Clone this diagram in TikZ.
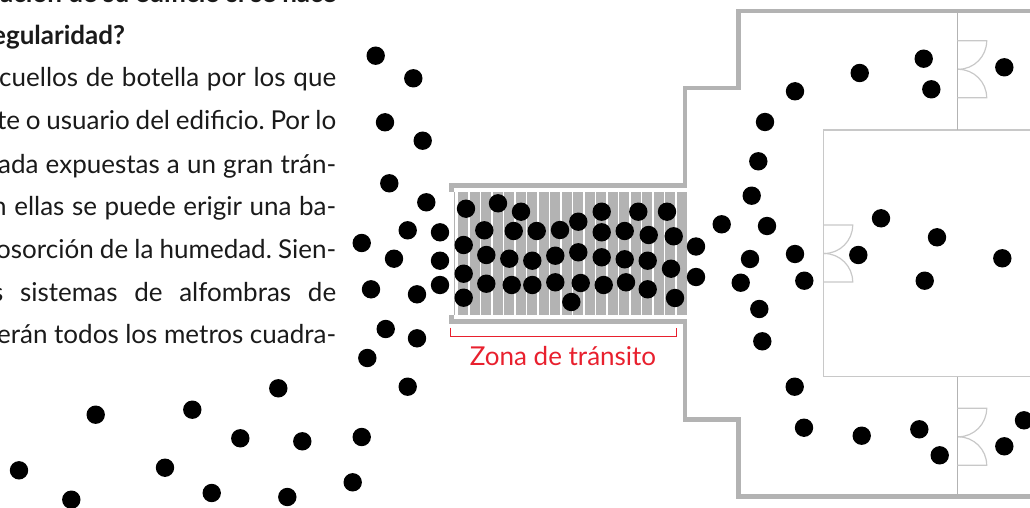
\documentclass[tikz,border=0pt]{standalone}
\usepackage{fontspec}
\setmainfont{Lato}
\usepackage{xcolor}
\definecolor{muro}{HTML}{B3B3B3}
\definecolor{tabique}{HTML}{C8C8C8}
\definecolor{rojo}{HTML}{E8202E}
\definecolor{tinta}{HTML}{1A1A1A}
\tikzset{
    muro/.style={draw=muro, line width=4.7pt, line join=miter},
    tabique/.style={draw=tabique, line width=1.4pt},
    puerta/.style={draw=tabique, line width=1.2pt},
    persona/.style={fill=black},
    linea/.style={anchor=base west, inner sep=0pt, text=tinta, font=\fontsize{26}{26}\selectfont\frenchspacing}
}
\begin{document}
\begin{tikzpicture}[x=1pt,y=-1pt]
    \useasboundingbox (0,0) rectangle (1030,508);
    \clip (0,0) rectangle (1030,508);
    % Texto:
    \node[linea, font=\fontsize{26}{26}\selectfont\bfseries] (t0) at (0,3) {\makebox[336pt][s]{ación de su edificio si se hace}};
    \node[linea, font=\fontsize{26}{26}\selectfont\bfseries] (t1) at (-8,45) {egularidad?};
    \node[linea] (t2) at (-1,87) {\makebox[337pt][s]{cuellos de botella por los que}};
    \node[linea] (t3) at (-3,130) {\makebox[339pt][s]{te o usuario del edificio. Por lo}};
    \node[linea] (t4) at (-2,173) {\makebox[338pt][s]{ada expuestas a un gran trán-}};
    \node[linea] (t5) at (-8,215) {\makebox[344pt][s]{n ellas se puede erigir una ba-}};
    \node[linea] (t6) at (-4,258) {\makebox[340pt][s]{osorción de la humedad. Sien-}};
    \node[linea] (t7) at (-8,301) {\makebox[344pt][s]{s sistemas de alfombras de}};
    \node[linea] (t8) at (-3,343) {\makebox[339pt][s]{erán todos los metros cuadra-}};
    % Felpudo:
    \foreach \x in {0,...,19} {
        \fill[fill=muro] ({458.3+11.5*\x},192) rectangle ({458.3+11.5*\x+10},314.7);
    }
    \draw[draw=muro, line width=1pt] (454.7,192) -- (454.7,315);
    % Muros:
    \draw[muro] (1030,11) -- (738.5,11) -- (738.5,88) -- (684.9,88) -- (684.9,185.6) -- (451.6,185.6) -- (451.6,192);
    \draw[muro] (451.6,315) -- (451.6,321.7) -- (684.9,321.7) -- (684.9,419.3) -- (738.5,419.3) -- (738.5,496.3) -- (1030,496.3);
    % Tabiques:
    \draw[tabique] (1030,130) -- (823.3,130) -- (823.3,376.7) -- (1030,376.7);
    \draw[tabique, draw=muro] (957.3,13) -- (957.3,130);
    \draw[tabique, draw=muro] (957.3,376.7) -- (957.3,494);
    % Puertas:
    \def\puerta#1#2{
        \draw[puerta] (#1,#2) ++(0,-28.5) -- ++(29.4,0) arc[start angle=0, end angle=90, radius=28.5];
        \draw[puerta] (#1,#2) ++(0,28.5) -- ++(29.4,0) arc[start angle=0, end angle=-90, radius=28.5];
    }
    \puerta{957.3}{69.3}
    \puerta{823.3}{253.5}
    \puerta{957.3}{436.8}
    % Zona de transito:
    \draw[rojo, line width=1.2pt] (450.7,327.7) -- (450.7,336.7) -- (676.7,336.7) -- (676.7,327.7);
    \node[anchor=base, inner sep=0pt, text=rojo, font=\fontsize{26}{26}\selectfont] (zona) at (563,365) {Zona de tránsito};
    % Personas:
    \foreach \x/\y in {
        375.7/55.7, 413.3/78.3, 385/122.3, 422.7/140.7, 389.3/183.3, 426.3/202.3,
        407.7/230.3, 440/232.3, 361.7/243, 394/258.7, 440/260.7, 371/289.3,
        417/294.3, 440/285, 385.7/329, 417/338.3, 367.3/358, 407.7/386.7,
        278.3/388.3, 95.7/414.7, 192.3/409.7, 240.3/438.3, 302.3/441.3, 361.7/437,
        19/470.3, 165/467.7, 352.7/482.3, 211.7/493, 287.3/497, 71.3/499.7,
        466/208.7, 498/203.3, 521/211.7, 601.7/211.7, 638.3/211.7, 667/211.7,
        578.3/221.7, 484.3/230.3, 513.7/231, 536.7/231, 560/230, 601.7/232.3,
        624.7/231, 648.7/235, 673.7/236.3, 463.7/245, 486.3/255, 509.3/258.7,
        532.3/260.7, 555.3/255.7, 578.3/252.3, 601.7/257.3, 624.7/259.3, 647.7/260.7,
        671/268.7, 463.7/273.7, 486.3/283.7, 511.7/285, 532.3/285, 555.3/282.3,
        580.7/283, 603.7/285, 626/282.3, 647.7/289.3, 463.7/297.7, 571.3/302,
        675/298, 696/246.5, 696/277,
        923.7/58.7, 1004.3/67.3, 859.7/73, 931.3/89.3, 795/91.3, 765/122,
        758.3/161.3, 751.7/195.7, 881/218.3, 721.7/224.3, 767/226, 937/237.3,
        858.3/255, 795/254, 750/259, 1002.3/258.3, 740.7/282.7, 804.3/280.7,
        924.7/280.7, 759.3/309, 762.3/341.3, 794.7/386.7, 1024/420.3, 804/427.7,
        861.7/435.7, 919.3/429.3, 1004.3/446.3, 939.7/455.3} {
        \fill[persona] (\x,\y) circle (9.2);
    }
\end{tikzpicture}
\end{document}
